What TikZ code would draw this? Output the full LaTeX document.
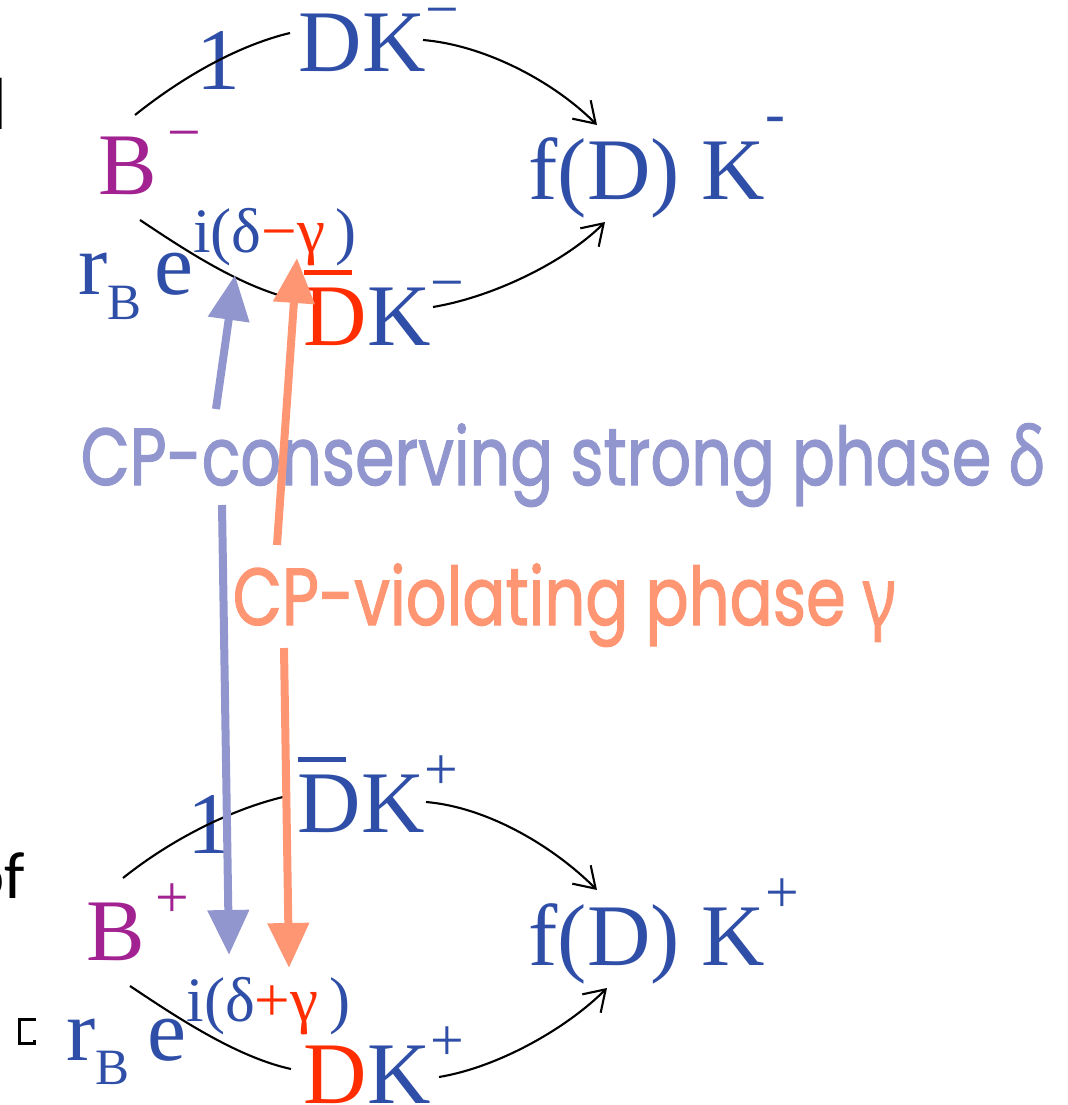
\documentclass[tikz,border=0pt]{standalone}
\usepackage{graphicx}
\usepackage{fontspec}
\setmainfont{Liberation Serif}
\newfontfamily\gothfont[FakeBold=1.6]{Poppins}
\newfontfamily\greekfont[FakeBold=1.2]{Noto Sans}
\newfontfamily\calfont{Carlito}
\usetikzlibrary{arrows.meta}
\definecolor{myblue}{RGB}{47,78,167}
\definecolor{mymagenta}{RGB}{162,34,146}
\definecolor{myred}{RGB}{255,45,0}
\definecolor{lavender}{RGB}{145,150,206}
\definecolor{salmon}{RGB}{255,150,115}
\newcommand{\hi}[2][12pt]{\raisebox{#1}{\fontsize{17}{17}\selectfont #2}}
\newcommand{\hoch}[2][12pt]{\raisebox{#1}{\fontsize{18}{18}\selectfont #2}}
\newcommand{\tief}[1]{\raisebox{-7pt}{\fontsize{14.5}{14.5}\selectfont #1}}
\newcommand{\Dquer}{\makebox[0pt][l]{\rule[0.8em]{0.55em}{0.055em}}D}
\begin{document}
\begin{tikzpicture}[x=0.1mm, y=-0.1mm, >={Straight Barb[length=2mm,width=2.6mm]}, font=\fontsize{25}{30}\selectfont,
		term/.style={text=myblue, inner sep=0pt, anchor=base west},
		bow/.style={black, line width=0.6pt},
		phase/.style={line width=0.8mm, -{Triangle[length=4.5mm,width=4mm]}},
		tag/.style={font=\gothfont\fontsize{23}{28}\selectfont, inner sep=0pt, anchor=base west}]
				\useasboundingbox (0,0) rectangle (1068,1105);
				%Reste vom Folientext
				\node[font=\calfont\fontsize{21}{24}\selectfont, inner sep=0pt, anchor=base east] (fragD) at (8,130) {d};
				\node[font=\calfont\fontsize{19}{22}\selectfont, inner sep=0pt, anchor=base east] (fragOf) at (26,898) {of};
				\draw[line width=0.3mm] (34,1021) -- (34,1019) -- (19,1019) -- (19,1043) -- (34,1043) -- (34,1040);
				%Zerfall B-
				\node[term] (dkTop) at (298,72) {DK\hi{−}};
				\node[term, text=mymagenta] (bMinus) at (98,195) {B\hspace{1mm}\hi{−}};
				\node[term] (fTop) at (528,200) {f(D) K\hi[19pt]{-}};
				\node[term] (dbTop) at (303,345) {{\color{myred}\Dquer}K\hi{−}};
				\node[term] (rTop) at (78,295) {r\tief{B}\hspace{3.5pt}e\hoch{i(δ{\color{myred}−γ}\hspace{3pt})}};
				\node[term] (oneTop) at (196,90) {1};
				\draw[bow] ([shift={(37,-80)}]bMinus.base west) .. controls +(50,-40) and +(-50,12) .. ([shift={(-8,-39)}]dkTop.base west);
				\draw[bow,->] ([shift={(125,-32)}]dkTop.base west) .. controls +(60,5) and +(-45,-45) .. ([shift={(69,-75)}]fTop.base west);
				\draw[bow] ([shift={(42,25)}]bMinus.base west) .. controls +(45,30) and +(-55,-12) .. ([shift={(-6,-45)}]dbTop.base west);
				\draw[bow,->] ([shift={(130,-38)}]dbTop.base west) .. controls +(60,-10) and +(-40,40) .. ([shift={(77,22)}]fTop.base west);
				%Zerfall B+
				\node[term] (dbBot) at (297,832) {\Dquer K\hi{+}};
				\node[term, text=mymagenta] (bPlus) at (86,960) {B\hspace{1mm}\hi{+}};
				\node[term] (fBot) at (528,965) {f(D) K\hi[15pt]{+}};
				\node[term] (dkBot) at (303,1103) {{\color{myred}D}K\hi{+}};
				\node[term] (rBot) at (66,1060) {r\tief{B}\hspace{5pt}e\hoch[11pt]{i(δ{\color{myred}+γ}\hspace{3pt})}};
				\node[term] (oneBot) at (187,853) {1};
				\draw[bow] ([shift={(37,-82)}]bPlus.base west) .. controls +(50,-40) and +(-50,12) .. ([shift={(-14,-35)}]dbBot.base west);
				\draw[bow,->] ([shift={(129,-30)}]dbBot.base west) .. controls +(60,5) and +(-45,-45) .. ([shift={(69,-75)}]fBot.base west);
				\draw[bow] ([shift={(44,26)}]bPlus.base west) .. controls +(45,30) and +(-55,-12) .. ([shift={(-12,-34)}]dkBot.base west);
				\draw[bow,->] ([shift={(136,-26)}]dkBot.base west) .. controls +(60,-10) and +(-40,40) .. ([shift={(79,23)}]fBot.base west);
				%Phasen
				\node[tag, text=lavender] (consTag) at (80,485) {\resizebox{96.5mm}{\height}{CP-conserving strong phase {\greekfont δ}}};
				\node[tag, text=salmon] (violTag) at (232,625) {\resizebox{66.3mm}{\height}{CP-violating phase {\greekfont γ}}};
				\draw[phase, lavender] ([shift={(136,-76)}]consTag.base west) -- ([shift={(157,-20)}]rTop.base west);
				\draw[phase, lavender] ([shift={(142,20)}]consTag.base west) -- ([shift={(163,-105)}]rBot.base west);
				\draw[phase, salmon] ([shift={(45,-80)}]violTag.base west) -- ([shift={(219,-37)}]rTop.base west);
				\draw[phase, salmon] ([shift={(52,23)}]violTag.base west) -- ([shift={(223,-92)}]rBot.base west);
\end{tikzpicture}
\end{document}
